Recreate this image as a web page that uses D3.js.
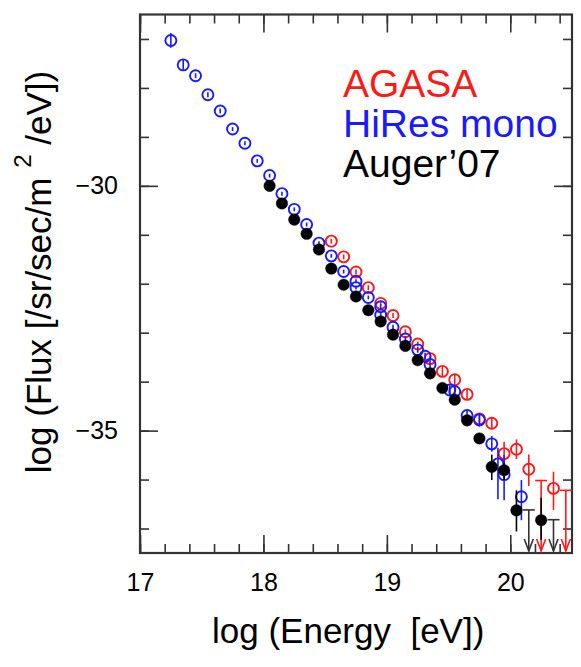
<!DOCTYPE html>
<html>
<head>
<meta charset="utf-8">
<script src="https://cdn.jsdelivr.net/npm/d3@7"></script>
<style>
  body { margin: 0; background: #fff; }
  text { font-family: "Liberation Sans", Arial, Helvetica, sans-serif; }
</style>
</head>
<body>
<div id="chart"></div>
<script>
// ---- data (log E, log flux) ----
var hiresX = [17.25, 17.35, 17.45, 17.55, 17.65, 17.75, 17.85, 17.95, 18.05, 18.15, 18.25, 18.35, 18.45,
              18.55, 18.65, 18.75, 18.75, 18.85, 18.95, 18.95, 19.05, 19.15, 19.25, 19.31, 19.35,
              19.51, 19.55, 19.65, 19.75, 19.85, 19.90, 19.95, 20.09];
var hiresY = [-27.03, -27.53, -27.75, -28.14, -28.47, -28.84, -29.13, -29.49, -29.79, -30.16, -30.48, -30.79, -31.17,
              -31.43, -31.75, -31.95, -32.08, -32.28, -32.47, -32.64, -32.89, -33.13, -33.35, -33.48, -33.65,
              -34.17, -34.20, -34.69, -34.78, -35.27, -35.68, -35.90, -36.35];
var hiresUp = [0.15, 0.10, 0.05, 0.05, 0.05, 0.04, 0.04, 0.04, 0.04, 0.04, 0.04, 0.04, 0.04,
               0.04, 0.04, 0.04, 0.04, 0.04, 0.05, 0.05, 0.05, 0.06, 0.06, 0.07, 0.07,
               0.09, 0.09, 0.10, 0.14, 0.16, 0.33, 0.40, 0.34];
var hiresDn = [0.15, 0.10, 0.05, 0.05, 0.05, 0.04, 0.04, 0.04, 0.04, 0.04, 0.04, 0.04, 0.04,
               0.04, 0.04, 0.04, 0.04, 0.04, 0.05, 0.05, 0.05, 0.06, 0.06, 0.07, 0.07,
               0.09, 0.09, 0.10, 0.14, 0.16, 0.72, 0.52, 0.48];

var agasaX = [18.55, 18.65, 18.75, 18.85, 18.95, 19.05, 19.15, 19.25, 19.35, 19.45, 19.55, 19.65,
              19.75, 19.85, 19.95, 20.05, 20.15, 20.35];
var agasaY = [-31.13, -31.45, -31.76, -32.08, -32.40, -32.65, -32.98, -33.23, -33.53, -33.79, -33.96, -34.26,
              -34.76, -34.85, -35.47, -35.38, -35.79, -36.18];
var agasaUp = [0.05, 0.05, 0.05, 0.05, 0.05, 0.05, 0.05, 0.05, 0.06, 0.10, 0.12, 0.10,
               0.12, 0.12, 0.24, 0.20, 0.30, 0.34];
var agasaDn = [0.05, 0.05, 0.05, 0.05, 0.05, 0.05, 0.05, 0.05, 0.06, 0.10, 0.12, 0.10,
               0.12, 0.12, 0.23, 0.20, 0.34, 0.44];
var agasaLimX = [20.25, 20.45];
var agasaLimY = [-36.02, -36.22];

var augerX = [18.05, 18.15, 18.25, 18.35, 18.45, 18.55, 18.65, 18.75, 18.85, 18.95, 19.05, 19.15,
              19.25, 19.35, 19.45, 19.55, 19.65, 19.75, 19.85, 19.95, 20.05, 20.25];
var augerY = [-30.00, -30.36, -30.69, -30.98, -31.30, -31.69, -32.02, -32.26, -32.54, -32.77, -33.04, -33.27,
              -33.56, -33.83, -34.13, -34.37, -34.79, -35.16, -35.74, -35.81, -36.63, -36.83];
var augerUp = [0.03, 0.03, 0.03, 0.03, 0.03, 0.03, 0.03, 0.03, 0.03, 0.03, 0.03, 0.03,
               0.03, 0.04, 0.05, 0.06, 0.06, 0.08, 0.25, 0.15, 0.41, 0.46];
var augerDn = [0.03, 0.03, 0.03, 0.03, 0.03, 0.03, 0.03, 0.03, 0.03, 0.03, 0.03, 0.03,
               0.03, 0.04, 0.05, 0.06, 0.06, 0.08, 0.27, 0.20, 0.43, 0.40];
var augerLimX = [20.15, 20.35];
var augerLimY = [-36.62, -36.82];

var xMajor = [17, 18, 19, 20];
var yMajor = [-30, -35];
var legendNames = ["AGASA", "HiRes mono", "Auger\u201907"];
var legendColors = ["#ff1a1a", "#1a1aff", "#000000"];

// ---- layout ----
var width = 581, height = 667;
var plotL = 140, plotR = 572, plotT = 14.5, plotB = 553;

var svg = d3.select("#chart").append("svg")
    .attr("width", width)
    .attr("height", height);

var x = d3.scaleLinear().domain([17, 20.5]).range([plotL, plotR]);
var y = d3.scaleLinear().domain([-37.5, -26.5]).range([plotB, plotT]);

var xMinor = d3.range(17, 20.5001, 0.2).map(function(d) { return +d.toFixed(1); });
var yMinor = d3.range(-37, -26, 1);
var axisColor = "#333";

// axes (ticks pointing inward, labels only on bottom/left)
function styleAxis(g) {
    g.select(".domain").remove();
    g.selectAll("line").attr("stroke", axisColor).attr("stroke-width", 1.6);
    g.selectAll("text").attr("fill", "#000").style("font-size", "25px")
      .style("font-family", "'Liberation Sans', Arial, sans-serif");
}

svg.append("g").attr("transform", "translate(0," + plotB + ")")
    .call(d3.axisBottom(x).tickValues(xMinor).tickSize(-9).tickFormat("")).call(styleAxis);
svg.append("g").attr("transform", "translate(0," + plotB + ")")
    .call(d3.axisBottom(x).tickValues(xMajor).tickSize(-18).tickPadding(20).tickFormat(d3.format("d"))).call(styleAxis);
svg.append("g").attr("transform", "translate(0," + plotT + ")")
    .call(d3.axisTop(x).tickValues(xMinor).tickSize(-9).tickFormat("")).call(styleAxis);
svg.append("g").attr("transform", "translate(0," + plotT + ")")
    .call(d3.axisTop(x).tickValues(xMajor).tickSize(-18).tickFormat("")).call(styleAxis);

svg.append("g").attr("transform", "translate(" + plotL + ",0)")
    .call(d3.axisLeft(y).tickValues(yMinor).tickSize(-9).tickFormat("")).call(styleAxis);
svg.append("g").attr("transform", "translate(" + plotL + ",0)")
    .call(d3.axisLeft(y).tickValues(yMajor).tickSize(-18).tickPadding(22).tickFormat(d3.format("d"))).call(styleAxis);
svg.append("g").attr("transform", "translate(" + plotR + ",0)")
    .call(d3.axisRight(y).tickValues(yMinor).tickSize(-9).tickFormat("")).call(styleAxis);
svg.append("g").attr("transform", "translate(" + plotR + ",0)")
    .call(d3.axisRight(y).tickValues(yMajor).tickSize(-18).tickFormat("")).call(styleAxis);

// frame
svg.append("rect")
    .attr("x", plotL).attr("y", plotT)
    .attr("width", plotR - plotL).attr("height", plotB - plotT)
    .attr("fill", "none").attr("stroke", axisColor).attr("stroke-width", 2.2);

// ---- series ----
function drawSeries(xs, ys, ups, dns, color, filled) {
    var data = xs.map(function(d, i) { return {x: d, y: ys[i], up: ups[i], dn: dns[i]}; });
    var g = svg.append("g");
    g.selectAll("line.err").data(data).enter().append("line")
        .attr("class", "err")
        .attr("x1", function(d) { return x(d.x); })
        .attr("x2", function(d) { return x(d.x); })
        .attr("y1", function(d) { return y(d.y + d.up); })
        .attr("y2", function(d) { return y(d.y - d.dn); })
        .attr("stroke", color).attr("stroke-width", 1.6);
    g.selectAll("circle").data(data).enter().append("circle")
        .attr("cx", function(d) { return x(d.x); })
        .attr("cy", function(d) { return y(d.y); })
        .attr("r", filled ? 5.8 : 5.5)
        .attr("fill", filled ? color : "none")
        .attr("stroke", color)
        .attr("stroke-width", filled ? 0.4 : 1.9);
}

function drawLimits(xs, ys, color) {
    var data = xs.map(function(d, i) { return {x: d, y: ys[i]}; });
    var g = svg.append("g").attr("stroke", color).attr("stroke-width", 1.6).attr("fill", "none");
    var tip = plotB - 2;
    data.forEach(function(d) {
        var px = x(d.x), py = y(d.y);
        g.append("line").attr("x1", px).attr("x2", px).attr("y1", py).attr("y2", tip);
        g.append("line").attr("x1", px - 6).attr("x2", px + 6).attr("y1", py).attr("y2", py);
        g.append("path").attr("d", "M" + (px - 4.5) + "," + (tip - 12) + "L" + px + "," + tip + "L" + (px + 4.5) + "," + (tip - 12));
    });
}

drawSeries(agasaX, agasaY, agasaUp, agasaDn, legendColors[0], false);
drawLimits(agasaLimX, agasaLimY, legendColors[0]);
drawSeries(hiresX, hiresY, hiresUp, hiresDn, legendColors[1], false);
drawSeries(augerX, augerY, augerUp, augerDn, "#000", true);
drawLimits(augerLimX, augerLimY, "#333");

// ---- legend ----
svg.selectAll("text.legend").data(legendNames).enter().append("text")
    .attr("class", "legend")
    .attr("x", 343)
    .attr("y", function(d, i) { return 97 + i * 40; })
    .attr("fill", function(d, i) { return legendColors[i]; })
    .style("font-size", "39px")
    .text(function(d) { return d; });

// ---- axis titles ----
svg.append("text")
    .attr("x", 212).attr("y", 643)
    .style("font-size", "35px")
    .style("white-space", "pre")
    .text("log (Energy  [eV])");

var yt = svg.append("text")
    .attr("transform", "translate(51,272) rotate(-90)")
    .attr("text-anchor", "middle")
    .style("font-size", "35px")
    .style("white-space", "pre");
yt.append("tspan").text("log (Flux [/sr/sec/m ");
yt.append("tspan").attr("dy", -20).style("font-size", "24px").text("2");
yt.append("tspan").attr("dy", 20).text(" /eV])");
</script>
</body>
</html>
